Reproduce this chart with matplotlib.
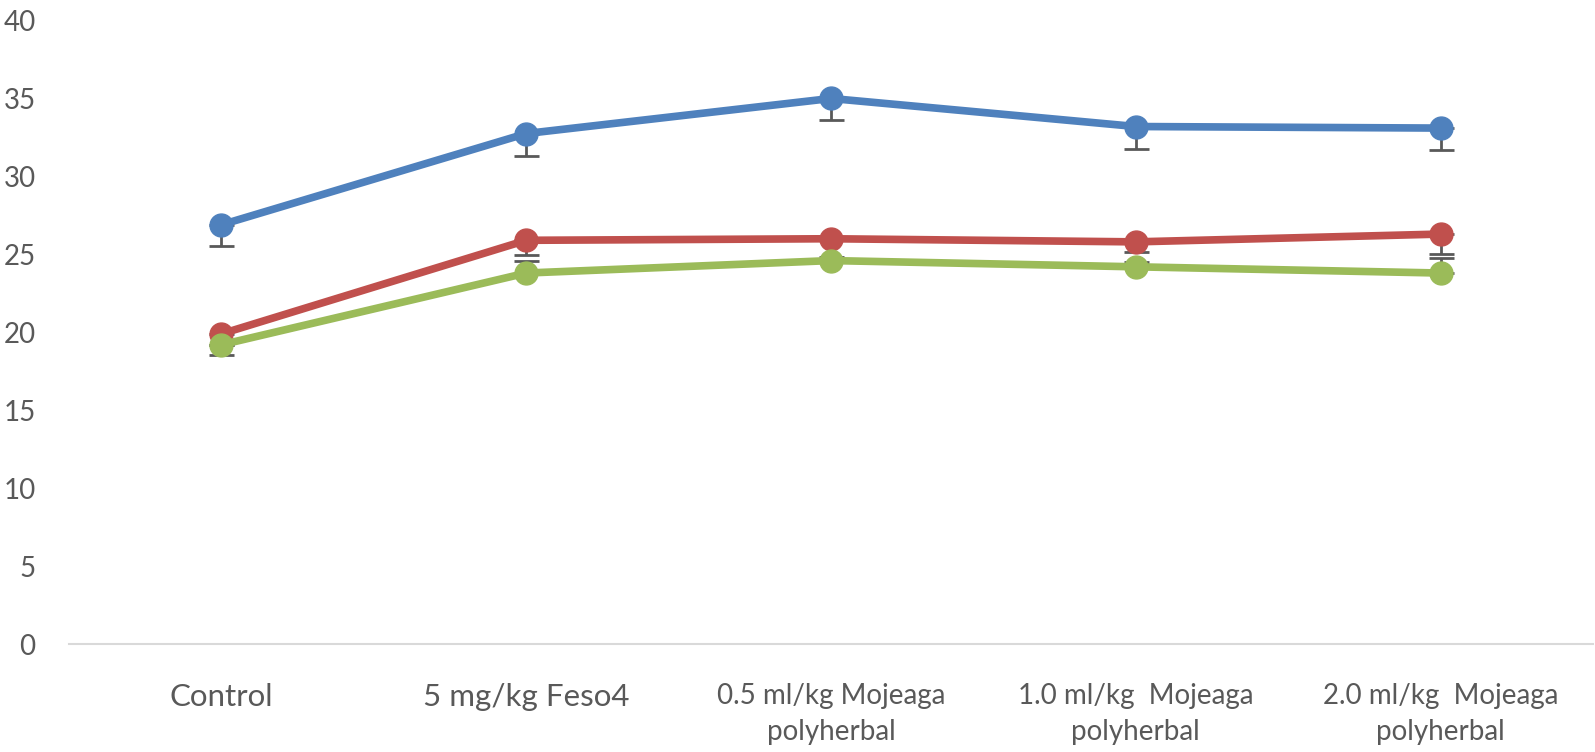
import matplotlib.pyplot as plt
import numpy as np

categories = ['Control', '5 mg/kg Feso4', '0.5 ml/kg Mojeaga\npolyherbal',
              '1.0 ml/kg  Mojeaga\npolyherbal', '2.0 ml/kg  Mojeaga\npolyherbal']
blue_vals = [26.9, 32.75, 35.0, 33.2, 33.1]
red_vals = [19.9, 25.9, 26.0, 25.8, 26.3]
green_vals = [19.2, 23.8, 24.6, 24.2, 23.8]
blue_err = [1.37, 1.43, 1.41, 1.43, 1.41]
red_err = [1.35, 0.96, 1.2, 0.64, 1.26]
green_err_up = [0.0, 0.77, 0.0, 0.3, 0.96]

plt.rcParams['font.family'] = ['Lato', 'DejaVu Sans']

fig = plt.figure(figsize=(15.95, 7.52), dpi=100)
ax = fig.add_axes([0.0433, 0.1436, 0.9554, 0.8291])

x = np.arange(len(categories))
ecol = '#595959'
ekw = dict(fmt='none', ecolor=ecol, elinewidth=2, capsize=9, capthick=2, zorder=1)

ax.errorbar(x, blue_vals, yerr=[blue_err, [0] * 5], **ekw)
ax.errorbar(x, red_vals, yerr=[red_err, [0] * 5], **ekw)
ax.errorbar(x, green_vals, yerr=[[0] * 5, green_err_up], **ekw)

series = [(blue_vals, '#4F81BD'), (red_vals, '#C0504D'), (green_vals, '#9BBB59')]
for vals, col in series:
    ax.plot(x, vals, color=col, lw=5.5, marker='o', markersize=16.5,
            solid_capstyle='round', zorder=3)

ax.set_xlim(-0.5, 4.5)
ax.set_ylim(0, 40)
ax.set_yticks(range(0, 41, 5))
ax.set_xticks(x)
ax.set_xticklabels(categories, fontsize=20, color=ecol, linespacing=1.5)
# single-line labels are drawn wider in the original
for lab in ax.get_xticklabels()[:2]:
    lab.set_fontsize(22.5)
ax.tick_params(axis='y', labelsize=20, labelcolor=ecol, length=0, pad=24)
ax.tick_params(axis='x', length=0, pad=28)
for s in ['top', 'right', 'left']:
    ax.spines[s].set_visible(False)
ax.spines['bottom'].set_color('#d9d9d9')
ax.spines['bottom'].set_linewidth(1.5)

plt.savefig('out.png', dpi=100)
